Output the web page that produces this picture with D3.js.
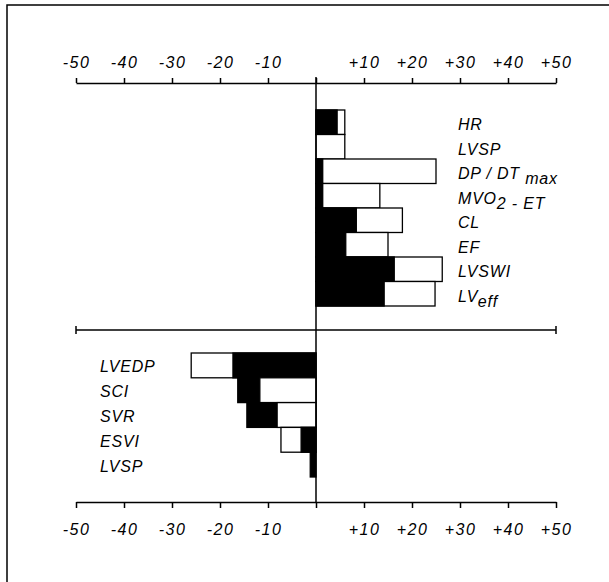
<!DOCTYPE html>
<html>
<head>
<meta charset="utf-8">
<script src="https://cdn.jsdelivr.net/npm/d3@7"></script>
<style>
  html, body { margin: 0; background: #fff; overflow: hidden; }
  svg { display: block; }
  text { font-family: "Liberation Sans", "DejaVu Sans", sans-serif; font-style: italic; fill: #000; }
</style>
</head>
<body>
<div id="chart"></div>
<script>
// values (% change); {..} marks a subscript
const topCats = ['HR', 'LVSP', 'DP / DT {max}', 'MVO{2} - ET', 'CL', 'EF', 'LVSWI', 'LV{eff}'];
const topBlack = [4.4, 0, 1.4, 1.4, 8.4, 6.2, 16.3, 14.2];
const topWhite = [6, 6, 25, 13.3, 18, 15, 26.3, 24.8];

const botCats = ['LVEDP', 'SCI', 'SVR', 'ESVI', 'LVSP'];
const botBlack = [-17.3, -16.3, -14.4, -3.1, -1.2];
const botWhite = [-26, -11.7, -8.1, -7.3, 0];

const tickVals = [-50, -40, -30, -20, -10, 0, 10, 20, 30, 40, 50];

const width = 609, height = 582;

const svg = d3.select('#chart')
  .append('svg')
  .attr('width', width)
  .attr('height', height);

// frame: only the top and left edges fall inside the picture
svg.append('path')
  .attr('d', 'M7,' + height + 'V5H' + width)
  .attr('fill', 'none').attr('stroke', '#000').attr('stroke-width', 1.5);

const x = d3.scaleLinear().domain([-50, 50]).range([76, 556]);

const yTop = d3.scaleBand().domain(topCats).range([110, 306]);
const yBot = d3.scaleBand().domain(botCats).range([353, 477]);

const fmt = d => d > 0 ? '+' + d : (d === 0 ? '' : d);

// top axis
const axTop = svg.append('g')
  .attr('transform', 'translate(0,83)')
  .call(d3.axisTop(x).tickValues(tickVals).tickSize(5).tickFormat(fmt).tickSizeOuter(0));

// bottom axis
const axBot = svg.append('g')
  .attr('transform', 'translate(0,502)')
  .call(d3.axisBottom(x).tickValues(tickVals).tickSize(6).tickFormat(fmt).tickSizeOuter(0));

[axTop, axBot].forEach(g => {
  g.select('.domain').attr('stroke-width', 1.5);
  g.selectAll('.tick line').attr('stroke-width', 1.5);
  g.selectAll('.tick text')
    .style('font-size', '16px')
    .style('letter-spacing', '1.5px')
    .style('font-family', '"Liberation Sans", sans-serif')
    .style('font-style', 'italic');
});
axTop.selectAll('.tick text').attr('y', -15);
axBot.selectAll('.tick text').attr('y', 22);

// middle axis with end ticks
const mid = svg.append('g');
mid.append('line')
  .attr('x1', x(-50)).attr('x2', x(50)).attr('y1', 330).attr('y2', 330)
  .attr('stroke', '#000').attr('stroke-width', 1.5);
mid.selectAll('line.end')
  .data([-50, 50])
  .enter().append('line')
  .attr('class', 'end')
  .attr('x1', d => x(d)).attr('x2', d => x(d))
  .attr('y1', 326).attr('y2', 334)
  .attr('stroke', '#000').attr('stroke-width', 1.5);

// paired bars: the longer one sits behind the shorter one
function drawBars(cats, black, white, y) {
  const rows = cats.map((c, i) => {
    const pair = [{v: white[i], fill: '#fff'}, {v: black[i], fill: '#000'}];
    pair.sort((a, b) => Math.abs(b.v) - Math.abs(a.v));
    return pair.map(p => ({cat: c, v: p.v, fill: p.fill}));
  });
  svg.append('g')
    .selectAll('rect')
    .data(rows.flat().filter(d => d.v !== 0))
    .enter().append('rect')
    .attr('x', d => Math.min(x(0), x(d.v)))
    .attr('y', d => y(d.cat))
    .attr('width', d => Math.abs(x(d.v) - x(0)))
    .attr('height', y.bandwidth())
    .attr('fill', d => d.fill)
    .attr('stroke', '#000')
    .attr('stroke-width', 1.3);
}
drawBars(topCats, topBlack, topWhite, yTop);
drawBars(botCats, botBlack, botWhite, yBot);

// zero line
svg.append('line')
  .attr('x1', x(0)).attr('x2', x(0))
  .attr('y1', 77).attr('y2', 502)
  .attr('stroke', '#000').attr('stroke-width', 1.5);

// labels with subscripts
function label(g, s) {
  const parts = s.split(/(\{[^}]*\})/).filter(p => p.length);
  parts.forEach(p => {
    if (p[0] === '{') {
      g.append('tspan').attr('dy', 5).text(p.slice(1, -1));
      g.append('tspan').attr('dy', -5).text('');
    } else {
      g.append('tspan').text(p);
    }
  });
}

svg.append('g')
  .selectAll('text')
  .data(topCats)
  .enter().append('text')
  .attr('x', 458)
  .attr('y', d => yTop(d) + yTop.bandwidth() / 2 + 8)
  .style('font-size', '16px')
  .style('letter-spacing', '0.8px')
  .each(function(d) { label(d3.select(this), d); });

svg.append('g')
  .selectAll('text')
  .data(botCats)
  .enter().append('text')
  .attr('x', 100)
  .attr('y', d => yBot(d) + yBot.bandwidth() / 2 + 7)
  .style('font-size', '16px')
  .style('letter-spacing', '0.8px')
  .each(function(d) { label(d3.select(this), d); });
</script>
</body>
</html>
